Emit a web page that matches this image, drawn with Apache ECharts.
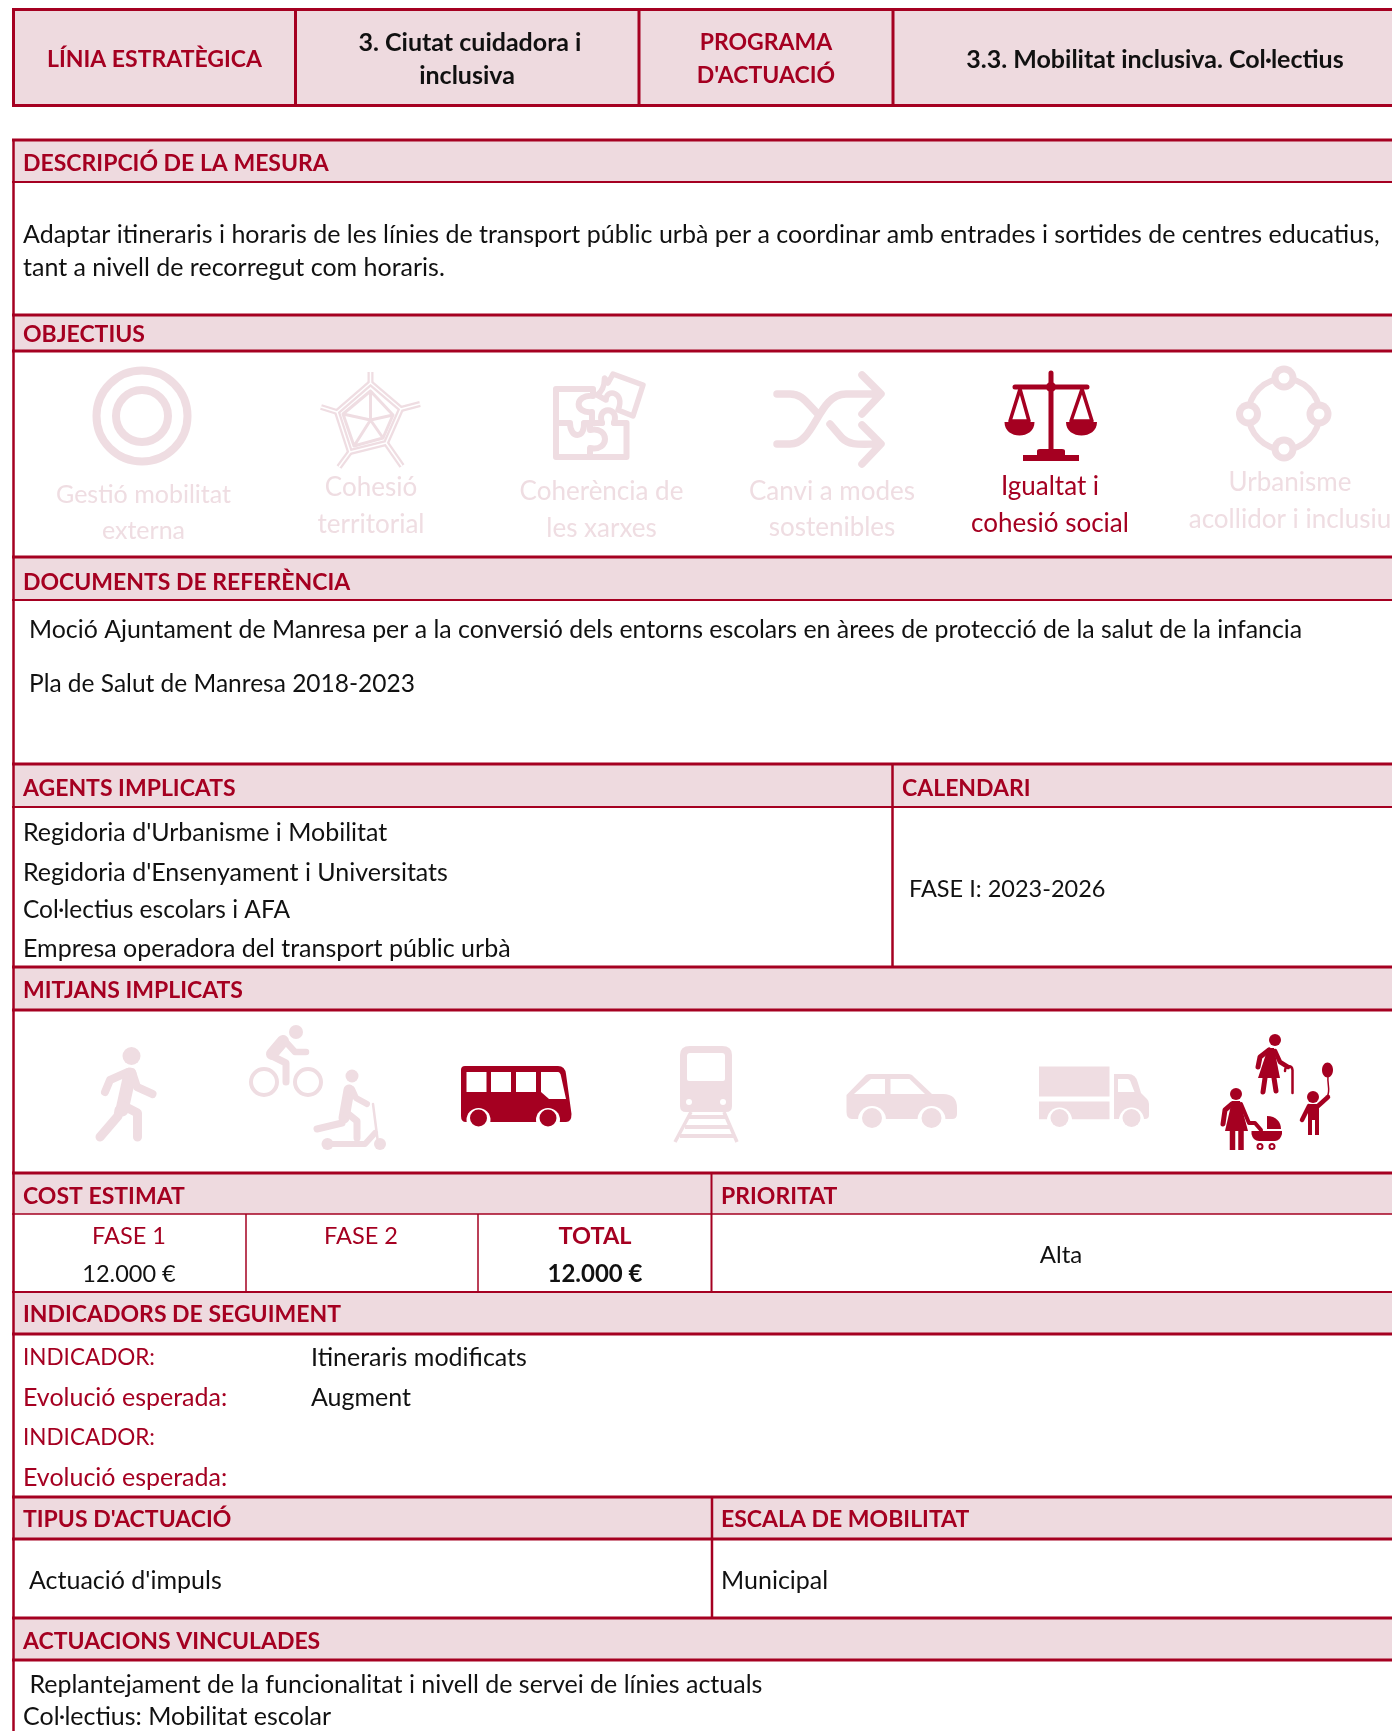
<!DOCTYPE html>
<html>
<head>
<meta charset="utf-8">
<style>
  html, body { margin: 0; padding: 0; background: #fff; }
  #main { width: 1392px; height: 1731px; }
</style>
<script src="https://cdn.jsdelivr.net/npm/echarts@6/dist/echarts.min.js"></script>
</head>
<body>
<div id="main"></div>
<script>
var titleCells = ['LÍNIA ESTRATÈGICA', '3. Ciutat cuidadora i\ninclusiva', 'PROGRAMA\nD\'ACTUACIÓ', '3.3. Mobilitat inclusiva. Col·lectius']
var sectionTitles = ['DESCRIPCIÓ DE LA MESURA', 'OBJECTIUS', 'DOCUMENTS DE REFERÈNCIA', 'AGENTS IMPLICATS', 'CALENDARI', 'MITJANS IMPLICATS', 'COST ESTIMAT', 'PRIORITAT', 'INDICADORS DE SEGUIMENT', 'TIPUS D\'ACTUACIÓ', 'ESCALA DE MOBILITAT', 'ACTUACIONS VINCULADES']
var description = ['Adaptar itineraris i horaris de les línies de transport públic urbà per a coordinar amb entrades i sortides de centres educatius,', 'tant a nivell de recorregut com horaris.']
var objectives = [['Gestió mobilitat', 'externa'], ['Cohesió', 'territorial'], ['Coherència de', 'les xarxes'], ['Canvi a modes', 'sostenibles'], ['Igualtat i', 'cohesió social'], ['Urbanisme', 'acollidor i inclusiu']]
var objectiveActive = [false, false, false, false, true, false]
var references = ['Moció Ajuntament de Manresa per a la conversió dels entorns escolars en àrees de protecció de la salut de la infancia', 'Pla de Salut de Manresa 2018-2023']
var agents = ['Regidoria d\'Urbanisme i Mobilitat', 'Regidoria d\'Ensenyament i Universitats', 'Col·lectius escolars i AFA', 'Empresa operadora del transport públic urbà']
var calendar = 'FASE I: 2023-2026'
var costLabels = ['FASE 1', 'FASE 2', 'TOTAL']
var costValues = ['12.000 €', '', '12.000 €']
var priority = 'Alta'
var indicatorLabels = ['INDICADOR:', 'Evolució esperada:', 'INDICADOR:', 'Evolució esperada:']
var indicatorValues = ['Itineraris modificats', 'Augment', '', '']
var actionType = 'Actuació d\'impuls'
var mobilityScale = 'Municipal'
var linkedActions = [' Replantejament de la funcionalitat i nivell de servei de línies actuals', 'Col·lectius: Mobilitat escolar']

var RED = '#a50021'
var PINK = '#eedadf'
var FADED = '#efdde2'
var INK = '#111111'
var FONT = 'Lato, Carlito, sans-serif'

var chart = echarts.init(document.getElementById('main'), null, { renderer: 'canvas' })

function txt(text, x, y, opt) {
  opt = opt || {}
  return {
    type: 'text',
    style: {
      text: text, x: x, y: y,
      fill: opt.color || INK,
      align: opt.align || 'left',
      verticalAlign: 'middle',
      font: (opt.bold ? 'bold ' : '') + (opt.size || 25) + 'px ' + FONT
    }
  }
}
function rect(x, y, w, h, fill) {
  return { type: 'rect', shape: { x: x, y: y, width: w, height: h }, style: { fill: fill } }
}
function hline(y, x1, x2, w) {
  return rect(x1, y - w / 2, x2 - x1, w, RED)
}
function vline(x, y1, y2, w) {
  return rect(x - w / 2, y1, w, y2 - y1, RED)
}
function fillP(d, c) {
  return { type: 'path', shape: { pathData: d }, style: { fill: c } }
}
function line(d, c, w, cap) {
  return { type: 'path', shape: { pathData: d }, style: { fill: null, stroke: c, lineWidth: w, lineCap: cap || 'round', lineJoin: 'round' } }
}
function dot(x, y, r, c) {
  return { type: 'circle', shape: { cx: x, cy: y, r: r }, style: { fill: c } }
}
function ring(x, y, r, w, c) {
  return { type: 'circle', shape: { cx: x, cy: y, r: r }, style: { fill: null, stroke: c, lineWidth: w } }
}

// icons are plain drawings of the sheet, not data
function targetIcon(c) {
  return [ring(142, 416, 45.5, 8, c), ring(142, 416, 26, 8, c)]
}
function webIcon(c) {
  var outer = 'M370.5 383L401 409L386 443L350 452L337 412Z'
  return [
    line('M370.5 372V383M401 409L420 404M386 443L402 466M350 452L339 467M337 412L321 407', c, 6, 'butt'),
    line(outer, c, 6),
    line('M370.5 372V383M401 409L420 404M386 443L402 466M350 452L339 467M337 412L321 407', '#fff', 1.5, 'butt'),
    line(outer, '#fff', 1.5),
    line('M370.5 391L393 415L383 438L354 446L343 414ZM370.5 391V420M393 415L370.5 420M383 438L370.5 420M354 446L370.5 420M343 414L370.5 420', c, 3)
  ]
}
function puzzleIcon(c) {
  return [
    line('M593 389H556V457H626.5V423H614M593 389V396C574 394 574 414 592 412C592 418 592 420 592 423M556 423H570C570 439 585 439 584 423H602M590 423V430C610 426 610 452 590 448V457', c, 6),
    line('M602 423C596 406 620 406 614 423', c, 6),
    line('M613 374L643 385L633 416L618 410C626 392 606 388 606 400L597 395C610 386 600 370 608 383Z', c, 5.5)
  ]
}
function shuffleIcon(c) {
  return [
    line('M777 394H790C802 394 806 402 817 413M777 444H790C815 444 818 394 846 394H880M862 375L881 394L862 414M830 424L842 438C850 446 860 444 880 444M862 425L881 444L862 464', c, 7.5)
  ]
}
function scaleIcon(c) {
  return [
    line('M1051 373V452M1015 387H1087', c, 5),
    dot(1051, 387, 5, c),
    line('M1020 389L1010 421H1029ZM1082 389L1071 421H1092Z', c, 3.5),
    fillP('M1004.5 422H1034.5C1034.5 440 1004.5 440 1004.5 422ZM1066 422H1097C1097 440 1066 440 1066 422Z', c),
    fillP('M1037 455V451Q1037 449 1040 449H1062Q1065 449 1065 451V455H1079V461H1023V455Z', c)
  ]
}
function loopIcon(c) {
  return [
    ring(1284, 414, 35.5, 6, c),
    dot(1284, 378, 12.5, c), dot(1248.5, 414, 12.5, c), dot(1319, 414, 12.5, c), dot(1284, 449, 12.5, c),
    dot(1284, 378, 5.5, '#fff'), dot(1248.5, 414, 5.5, '#fff'), dot(1319, 414, 5.5, '#fff'), dot(1284, 449, 5.5, '#fff')
  ]
}
function walkerIcon(c) {
  return [
    dot(131.5, 1056, 9, c),
    line('M130 1074L122 1110', c, 13),
    line('M119 1110L118 1116L100 1137', c, 9),
    line('M124 1106L137.5 1113V1137', c, 9),
    line('M128 1072L110 1080L105 1092', c, 8),
    line('M132 1072L137 1087L152.5 1094', c, 8)
  ]
}
function riderIcon(c) {
  return [
    dot(296, 1032, 7, c),
    line('M283 1041L272 1054', c, 12),
    line('M285 1041L295 1052H306', c, 6.5),
    line('M272 1056L286 1063V1082', c, 7),
    ring(264, 1082, 13, 4, c), ring(308, 1082, 13, 4, c),
    dot(352, 1076, 6.5, c),
    line('M349 1090L344 1118', c, 11),
    line('M352 1089L356 1098L367 1104', c, 6),
    line('M342 1123L317 1129', c, 7),
    line('M347 1113L357 1121V1138', c, 7),
    line('M373 1104L378 1143', c, 2.5),
    line('M327 1144H365L375 1133', c, 6),
    dot(327.5, 1144, 6, c), dot(380, 1144, 6, c)
  ]
}
function busIcon(c) {
  return [
    fillP('M461 1070Q461 1066 465 1066H558Q565 1066 566 1074L571.5 1114Q571.5 1122 566 1122H466Q461 1122 461 1116Z', c),
    rect(466.5, 1072, 20, 20, '#fff'), rect(491, 1072, 20, 20, '#fff'), rect(516, 1072, 20, 20, '#fff'),
    fillP('M541 1072H558Q560 1072 561 1076L566 1099H549L541 1092Z', '#fff'),
    dot(478.5, 1120, 12, '#fff'), dot(548, 1120, 12, '#fff'),
    rect(440, 1122, 145, 10, '#fff'),
    dot(478.5, 1118, 8.5, c), dot(548, 1118, 8.5, c)
  ]
}
function trainIcon(c) {
  return [
    fillP('M680 1055Q680 1046 690 1046H722Q732 1046 732 1055V1106Q732 1112 726 1112H686Q680 1112 680 1106Z', c),
    fillP('M687 1056Q687 1053 690 1053H722Q725 1053 725 1056V1079Q725 1081 723 1081H689Q687 1081 687 1079Z', '#fff'),
    dot(689, 1102, 3, '#fff'), dot(723, 1102, 3, '#fff'),
    line('M691 1112L675 1142M724 1112L737 1142', c, 3.5, 'butt'),
    line('M689 1117H726M685 1127H730M680 1136H734', c, 4, 'butt')
  ]
}
function carIcon(c) {
  return [
    fillP('M846.5 1095L864 1077Q866 1074 870 1074H908Q912 1074 914 1077L932 1094H943Q957 1094 957 1108V1114Q957 1119 952 1119H852Q846.5 1119 846.5 1112Z', c),
    fillP('M854 1094L871 1079H885V1094Z', '#fff'),
    fillP('M890.5 1079H909.5L925 1094H890.5Z', '#fff'),
    dot(872, 1120, 14, '#fff'), dot(931.5, 1120, 14, '#fff'),
    rect(840, 1119.5, 125, 16, '#fff'),
    dot(872, 1118, 10, c), dot(931.5, 1118, 10, c)
  ]
}
function truckIcon(c) {
  return [
    rect(1039, 1066.5, 70.5, 30, c),
    rect(1039, 1101.5, 70.5, 18, c),
    fillP('M1114 1074H1128Q1136 1074 1138 1083L1141 1093L1147 1099Q1149 1101 1149 1104V1115Q1149 1119 1145 1119H1114Z', c),
    fillP('M1118 1079H1127Q1130 1079 1131 1083L1134.5 1092H1118Z', '#fff'),
    dot(1059.5, 1120, 12.5, '#fff'), dot(1131.5, 1120, 12.5, '#fff'),
    rect(1035, 1119.5, 120, 14, '#fff'),
    dot(1059.5, 1118, 9, c), dot(1131.5, 1118, 9, c)
  ]
}
function familyIcon(c) {
  return [
    dot(1275, 1040, 6, c),
    fillP('M1268 1048H1274L1280 1078H1258Z', c),
    line('M1269 1050L1260 1057L1258 1067', c, 5),
    line('M1275 1051L1280 1062L1288 1067', c, 4.5),
    line('M1285 1071C1285 1065 1292 1065 1292.5 1070V1093', c, 2.5),
    line('M1265 1078L1263 1092M1274 1078L1276 1091', c, 5),
    dot(1236, 1094, 6, c),
    fillP('M1232 1101H1240L1248 1131H1225Z', c),
    line('M1232 1104L1225 1110L1223 1124', c, 5),
    line('M1241 1104L1249 1123H1255L1261 1130', c, 4),
    line('M1232.5 1131V1150M1241 1131V1150', c, 5.5, 'butt'),
    fillP('M1267 1116C1276 1116 1281 1122 1281 1129H1267Z', c),
    fillP('M1251.5 1131H1282V1134Q1280 1141 1275 1141H1259Q1253 1141 1251.5 1134Z', c),
    ring(1260, 1146.5, 2.5, 2, c), ring(1272, 1146.5, 2.5, 2, c),
    dot(1313, 1097, 6, c),
    fillP('M1308 1104H1319V1135H1315V1120H1312V1135H1308Z', c),
    line('M1309 1106L1302 1120', c, 4.5),
    line('M1318 1106L1328 1097', c, 4.5),
    line('M1327 1097C1331 1090 1327 1085 1328 1076', c, 1.5),
    { type: 'ellipse', shape: { cx: 1327.5, cy: 1070, rx: 5.5, ry: 7.5 }, style: { fill: c } }
  ]
}

function renderSheet() {
  var els = []
  var HEAD = 23
  // title row
  els.push(rect(13, 9, 1379, 97, PINK))
  els.push(hline(9.5, 12, 1392, 3), hline(105.5, 12, 1392, 3), vline(13.5, 8, 107, 3))
  ;[295.5, 639, 893].forEach(function (x) { els.push(vline(x, 9, 105, 3)) })
  els.push(txt(titleCells[0], 154.5, 59.5, { color: RED, bold: true, align: 'center', size: HEAD }))
  var t1 = titleCells[1].split('\n')
  els.push(txt(t1[0], 470, 43, { bold: true, align: 'center' }), txt(t1[1], 467, 76, { bold: true, align: 'center' }))
  var t2 = titleCells[2].split('\n')
  els.push(txt(t2[0], 766, 43, { color: RED, bold: true, align: 'center', size: HEAD }), txt(t2[1], 766, 76, { color: RED, bold: true, align: 'center', size: HEAD }))
  els.push(txt(titleCells[3], 1155, 59.5, { bold: true, align: 'center' }))

  // section bands
  var bands = [[140, 182, 2], [315, 351, 3], [557, 600, 2], [764, 807, 2], [967, 1010, 3], [1173, 1214, 1.5], [1292, 1334, 3], [1497, 1539, 3], [1618, 1660, 3]]
  bands.forEach(function (b) {
    els.push(rect(13, b[0], 1379, b[1] - b[0], PINK))
  })
  bands.forEach(function (b) {
    els.push(hline(b[0], 12, 1392, b[0] === 1292 ? 2 : 3), hline(b[1], 12, 1392, b[2]))
  })
  els.push(vline(13.5, 139, 1731, 2.5))
  els.push(vline(892.5, 764, 967, 2.5))
  els.push(vline(711.5, 1173, 1292, 2), vline(246, 1214, 1292, 1.5), vline(478, 1214, 1292, 1.5))
  els.push(vline(712, 1497, 1618, 2.5))

  var heads = [[23, 164], [23, 335], [23, 583], [23, 789], [902, 789], [23, 991], [23, 1197], [721, 1197], [23, 1315], [23, 1520], [721, 1520], [23, 1642]]
  sectionTitles.forEach(function (s, i) {
    els.push(txt(s, heads[i][0], heads[i][1], { color: RED, bold: true, size: HEAD }))
  })

  // body text
  els.push(txt(description[0], 23, 235), txt(description[1], 23, 268))
  var objX = [143.5, 371, 601.5, 832, 1050, 1290]
  var objY = [[495, 530.5], [488, 524.5], [492, 529], [492, 528], [487, 524], [483, 520]]
  var objSize = [25, 26, 26, 26, 26, 26]
  objectives.forEach(function (o, i) {
    var c = objectiveActive[i] ? RED : FADED
    els.push(txt(o[0], objX[i], objY[i][0], { color: c, align: 'center', size: objSize[i] }))
    els.push(txt(o[1], objX[i], objY[i][1], { color: c, align: 'center', size: objSize[i] }))
  })
  els.push(txt(references[0], 29, 630, { size: 24.9 }), txt(references[1], 29, 684, { size: 24.5 }))
  var agentY = [833, 873, 910, 949]
  agents.forEach(function (a, i) { els.push(txt(a, 23, agentY[i], { size: i === 2 ? 24.5 : 25 })) })
  els.push(txt(calendar, 909, 889.5, { size: 23.5 }))
  var costX = [129, 361, 595]
  costLabels.forEach(function (c, i) {
    els.push(txt(c, costX[i], 1236, { color: RED, align: 'center', bold: i === 2, size: 23.5 }))
    if (costValues[i]) els.push(txt(costValues[i], costX[i], 1274, { align: 'center', bold: i === 2, size: i === 2 ? 24 : 23.5 }))
  })
  els.push(txt(priority, 1061, 1255, { align: 'center', size: 24 }))
  var indY = [1358, 1398, 1437.5, 1477.5]
  indicatorLabels.forEach(function (l, i) {
    els.push(txt(l, 23, indY[i], { color: RED, size: i % 2 ? 25 : 22.5 }))
    if (indicatorValues[i]) els.push(txt(indicatorValues[i], 311, indY[i]))
  })
  els.push(txt(actionType, 29, 1580.5), txt(mobilityScale, 721, 1580.5))
  els.push(txt(linkedActions[0], 23, 1685), txt(linkedActions[1], 23, 1717))

  // icons
  var on = function (i) { return objectiveActive[i] ? RED : FADED }
  els = els.concat(targetIcon(on(0)), webIcon(on(1)), puzzleIcon(on(2)), shuffleIcon(on(3)), scaleIcon(on(4)), loopIcon(on(5)))
  els = els.concat(walkerIcon(FADED), riderIcon(FADED), busIcon(RED), trainIcon(FADED), carIcon(FADED), truckIcon(FADED), familyIcon(RED))

  return { type: 'group', children: els }
}

var option = {
  animation: false,
  backgroundColor: '#ffffff',
  series: [
    {
      type: 'custom',
      coordinateSystem: 'none',
      silent: true,
      data: [0],
      clip: false,
      renderItem: renderSheet
    }
  ]
}
chart.setOption(option)
</script>
</body>
</html>
